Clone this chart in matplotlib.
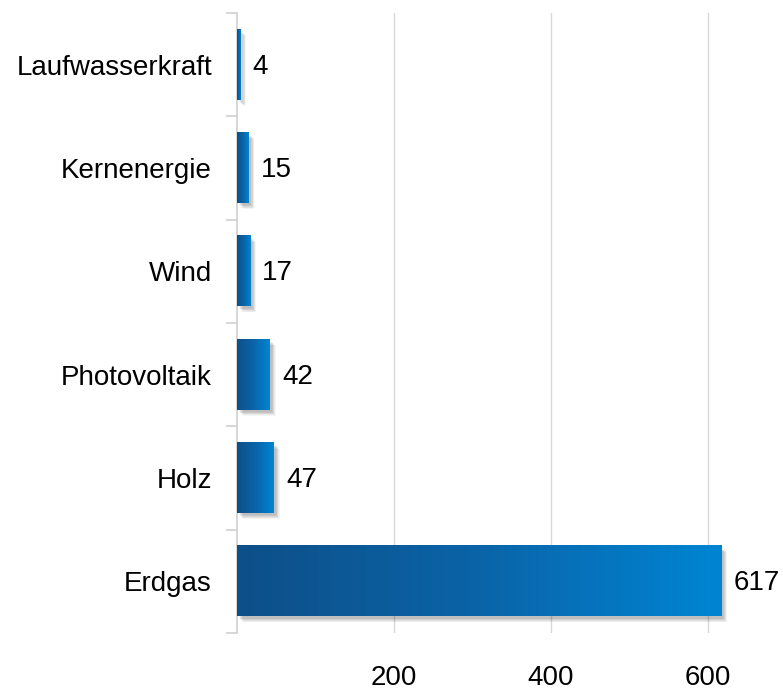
import numpy as np
import matplotlib.pyplot as plt
from matplotlib.colors import LinearSegmentedColormap

plt.rcParams['font.family'] = ['Liberation Sans', 'DejaVu Sans']

# Daten (von unten nach oben)
kategorien = ['Erdgas', 'Holz', 'Photovoltaik', 'Wind', 'Kernenergie', 'Laufwasserkraft']
werte = [617, 47, 42, 17, 15, 4]
xticks = [200, 400, 600]

verlauf = LinearSegmentedColormap.from_list('verlauf', ['#0e4f88', '#0a64a8', '#0085d3'])
fs = 20

fig = plt.figure(figsize=(7.83, 6.90), dpi=100)
ax = fig.add_axes([237 / 783, (690 - 633) / 690, (783 - 237) / 783, 620 / 690])

xmax = (783 - 237) / 0.785
ax.set_xlim(0, xmax)
ax.set_ylim(-0.5, len(kategorien) - 0.5)

hoehe = 0.68
grad = np.linspace(0, 1, 256).reshape(1, -1)
px = xmax / 546.0           # Dateneinheiten pro Pixel in x
py = 6 / 620.0              # Dateneinheiten pro Pixel in y

for i, w in enumerate(werte):
    y0, y1 = i - hoehe / 2, i + hoehe / 2
    # weicher Schatten
    for k in range(7):
        s = k + 1
        ax.add_patch(plt.Rectangle((s * 0.6 * px + 1.5 * px, y0 - s * 0.6 * py - 1.5 * py),
                                   w, hoehe, facecolor='black', alpha=0.04,
                                   edgecolor='none', zorder=2))
    ax.imshow(grad, cmap=verlauf, aspect='auto', extent=(0, w, y0, y1),
              interpolation='bicubic', zorder=3)
    ax.text(w + 12 * px, i - 0.02, str(w), va='center', ha='left',
            fontsize=fs, color='black', clip_on=False, zorder=4)

ax.set_xlim(0, xmax)
ax.set_ylim(-0.5, len(kategorien) - 0.5)

# Achsen
for s in ['top', 'right', 'bottom']:
    ax.spines[s].set_visible(False)
ax.spines['left'].set_color('#d0d0d0')
ax.spines['left'].set_linewidth(1.2)

ax.set_xticks(xticks)
ax.set_xticklabels([str(t) for t in xticks], fontsize=fs)
ax.tick_params(axis='x', length=0, pad=23)
ax.grid(axis='x', color='#d9d9d9', linewidth=1, zorder=0)
ax.set_axisbelow(True)

ax.set_yticks(np.arange(-0.5, len(kategorien), 1.0))
ax.set_yticklabels([])
ax.tick_params(axis='y', which='major', length=8, color='#d0d0d0', width=1.2)
ax.set_yticks(np.arange(len(kategorien)), minor=True)
ax.set_yticklabels(kategorien, minor=True, fontsize=fs)
ax.tick_params(axis='y', which='minor', length=0, pad=18)

plt.savefig('out.png', dpi=100)
plt.close()
